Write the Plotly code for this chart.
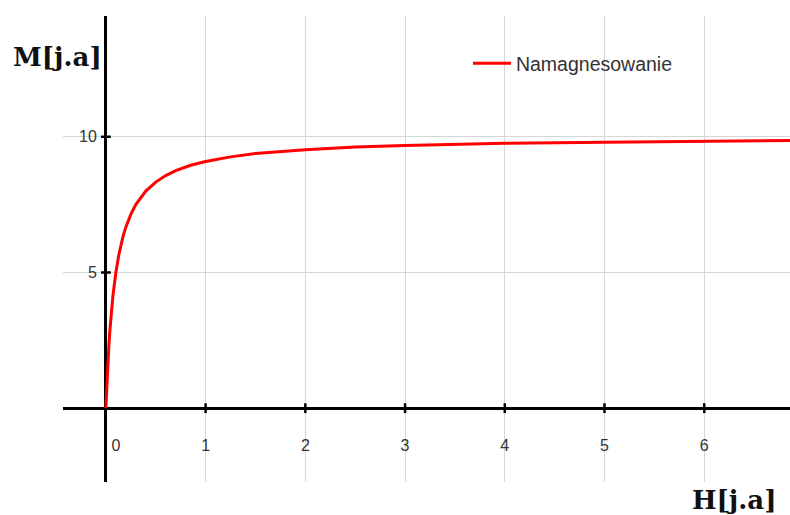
import plotly.graph_objects as go

# Magnetisation curve
H = [0, 0.005, 0.01, 0.02, 0.03, 0.04, 0.05, 0.07, 0.1, 0.13, 0.17, 0.2, 0.25, 0.3,
     0.4, 0.5, 0.6, 0.7, 0.85, 1.0, 1.25, 1.5, 2.0, 2.5, 3.0, 3.5, 4.0, 5.0, 6.0, 6.9]
M = [0, 0.48, 0.91, 1.67, 2.31, 2.86, 3.33, 4.12, 5.0, 5.65, 6.3, 6.67, 7.14, 7.5,
     8.0, 8.33, 8.57, 8.75, 8.95, 9.09, 9.26, 9.38, 9.52, 9.62, 9.68, 9.72, 9.76, 9.8, 9.84, 9.86]

x_ticks = [0, 1, 2, 3, 4, 5, 6]
x_tick_labels = ["", "1", "2", "3", "4", "5", "6"]
y_ticks = [5, 10]
y_tick_labels = ["5", "10"]
series_name = "Namagnesowanie"

X_RANGE = [-0.43, 6.86]
Y_RANGE = [-2.72, 14.45]

# paper position of the data origin
py0 = (0 - Y_RANGE[0]) / (Y_RANGE[1] - Y_RANGE[0])
px0 = (0 - X_RANGE[0]) / (X_RANGE[1] - X_RANGE[0])

fig = go.Figure()
fig.add_trace(go.Scatter(
    x=H, y=M, mode="lines", name=series_name,
    line=dict(color="#ff0000", width=3),
))
# small cross tick marks on the axes
fig.add_trace(go.Scatter(
    x=x_ticks[1:] + [0] * len(y_ticks),
    y=[0] * (len(x_ticks) - 1) + y_ticks,
    xaxis="x2", mode="markers", showlegend=False, hoverinfo="skip",
    marker=dict(symbol=["line-ns"] * (len(x_ticks) - 1) + ["line-ew"] * len(y_ticks),
                size=7, line=dict(color="black", width=2.5)),
))

tick_font = dict(family="Liberation Sans", size=16, color="#333333")

fig.update_layout(
    width=790, height=515,
    margin=dict(l=63, r=0, t=16, b=33, autoexpand=False),
    paper_bgcolor="white", plot_bgcolor="white",
    showlegend=True,
    legend=dict(x=0.557, y=0.94, xanchor="left", yanchor="top",
                bgcolor="rgba(0,0,0,0)", itemwidth=38,
                font=dict(family="Liberation Sans", size=19.5, color="#333333")),
    xaxis=dict(range=X_RANGE, tickvals=x_ticks, ticktext=x_tick_labels,
               showgrid=True, gridcolor="#d6d6d6", gridwidth=1.3,
               zeroline=True, zerolinecolor="black", zerolinewidth=2.5,
               showline=False, ticks="", anchor="free", position=py0, automargin=False,
               ticklabelstandoff=26, tickfont=tick_font, fixedrange=True),
    xaxis2=dict(range=X_RANGE, overlaying="x", matches="x", tickvals=[0], ticktext=["0"],
                showgrid=False, zeroline=False, showline=False, ticks="", automargin=False,
                anchor="free", position=py0, ticklabelstandoff=26,
                ticklabelshift=10, tickfont=tick_font, fixedrange=True),
    yaxis=dict(range=Y_RANGE, tickvals=y_ticks, ticktext=y_tick_labels,
               showgrid=True, gridcolor="#d6d6d6", gridwidth=1.3,
               zeroline=True, zerolinecolor="black", zerolinewidth=2.5,
               showline=False, ticks="", anchor="free", position=px0, automargin=False,
               ticklabelstandoff=9, tickfont=tick_font, fixedrange=True),
    annotations=[
        dict(text="<b>M[j.a]</b>", xref="paper", yref="paper",
             x=-0.0716, y=0.912, xanchor="left", yanchor="middle", showarrow=False,
             font=dict(family="DejaVu Serif", size=26, color="#111111")),
        dict(text="<b>H[j.a]</b>", xref="paper", yref="paper",
             x=0.923, y=-0.039, xanchor="center", yanchor="middle", showarrow=False,
             font=dict(family="DejaVu Serif", size=26, color="#111111")),
    ],
)

fig.write_html("out.html", config={"displayModeBar": False},
               post_script="document.body.style.margin='0';document.body.style.overflow='hidden';")
